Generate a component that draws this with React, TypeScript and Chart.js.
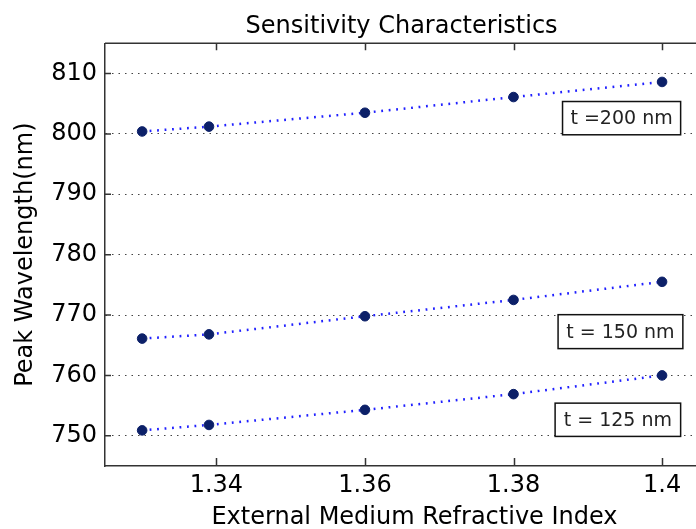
import React, { useEffect, useRef } from "react";
import { Chart, registerables } from "chart.js";

Chart.register(...registerables);

// Data
const RI = [1.33, 1.339, 1.36, 1.38, 1.4];
const T200 = [800.4, 801.2, 803.5, 806.1, 808.6];
const T150 = [766.1, 766.8, 769.8, 772.5, 775.5];
const T125 = [750.9, 751.8, 754.3, 756.9, 760.0];
const X_TICKS = [1.34, 1.36, 1.38, 1.4];
const Y_TICKS = [750, 760, 770, 780, 790, 800, 810];
const SERIES_NAMES = ["t =200 nm", "t = 150 nm", "t = 125 nm"];

const TITLE = "Sensitivity Characteristics";
const X_LABEL = "External Medium Refractive Index";
const Y_LABEL = "Peak Wavelength(nm)";

// annotation boxes in data units: [xLeft, xRight, yBottom, yTop]
const BOXES: number[][] = [
  [1.3866, 1.4025, 799.85, 805.36],
  [1.386, 1.4028, 764.44, 770.06],
  [1.3856, 1.4025, 749.9, 755.41],
];

const FONT = "'DejaVu Sans', 'Liberation Sans', Arial, sans-serif";

const decor = {
  id: "decor",
  afterDraw(chart: any) {
    const { ctx, chartArea: a, scales } = chart;
    const x = scales.x;
    const y = scales.y;
    ctx.save();
    ctx.strokeStyle = "#333";
    ctx.lineWidth = 1.5;
    ctx.beginPath();
    ctx.moveTo(a.left, a.top);
    ctx.lineTo(a.right, a.top);
    ctx.stroke();
    ctx.beginPath();
    X_TICKS.forEach((v) => {
      const px = Math.round(x.getPixelForValue(v)) + 0.5;
      ctx.moveTo(px, a.bottom);
      ctx.lineTo(px, a.bottom - 8);
      ctx.moveTo(px, a.top);
      ctx.lineTo(px, a.top + 7);
    });
    Y_TICKS.forEach((v) => {
      const py = y.getPixelForValue(v);
      ctx.moveTo(a.left, py);
      ctx.lineTo(a.left + 6, py);
    });
    ctx.stroke();

    // annotation boxes
    ctx.font = `19px ${FONT}`;
    ctx.textAlign = "center";
    ctx.textBaseline = "middle";
    BOXES.forEach((b, i) => {
      const l = x.getPixelForValue(b[0]);
      const r = x.getPixelForValue(b[1]);
      const bt = y.getPixelForValue(b[2]);
      const tp = y.getPixelForValue(b[3]);
      ctx.fillStyle = "#fff";
      ctx.fillRect(l, tp, r - l, bt - tp);
      ctx.strokeStyle = "#111";
      ctx.lineWidth = 1.5;
      ctx.strokeRect(l, tp, r - l, bt - tp);
      ctx.fillStyle = "#222";
      ctx.fillText(SERIES_NAMES[i], (l + r) / 2, (tp + bt) / 2 + 1);
    });

    // title and x label
    ctx.fillStyle = "#000";
    ctx.font = `24px ${FONT}`;
    ctx.textBaseline = "alphabetic";
    ctx.fillText(TITLE, 401.6, 33);
    ctx.fillText(X_LABEL, 414.5, 524);
    ctx.restore();
  },
};

export default function App() {
  const ref = useRef<HTMLCanvasElement | null>(null);

  useEffect(() => {
    if (!ref.current) return;
    const mk = (data: number[]) => ({
      data: RI.map((v, i) => ({ x: v, y: data[i] })),
      borderColor: "#2020ff",
      borderWidth: 2.5,
      borderDash: [1.8, 5.7],
      pointRadius: 4.8,
      pointStyle: "circle",
      pointBackgroundColor: "#0c2068",
      pointBorderColor: "#0c2068",
      pointBorderWidth: 1,
      showLine: true,
      tension: 0,
      fill: false,
    });
    const chart = new Chart(ref.current, {
      type: "scatter",
      data: {
        datasets: [
          { label: SERIES_NAMES[0], ...mk(T200) },
          { label: SERIES_NAMES[1], ...mk(T150) },
          { label: SERIES_NAMES[2], ...mk(T125) },
        ] as any,
      },
      options: {
        responsive: false,
        animation: false,
        devicePixelRatio: 1,
        layout: { padding: { top: 43.3, left: 0, right: 0, bottom: 0 } },
        plugins: {
          legend: { display: false },
          title: { display: false },
          tooltip: { enabled: false },
        },
        scales: {
          x: {
            type: "linear",
            min: 1.325,
            max: 1.405,
            afterFit: (s: any) => {
              s.height = 63;
            },
            afterBuildTicks: (s: any) => {
              s.ticks = X_TICKS.map((v) => ({ value: v }));
            },
            grid: { display: false, drawTicks: false },
            border: { display: true, color: "#333", width: 1.5 },
            ticks: {
              padding: 5,
              color: "#000",
              font: { family: FONT, size: 24 },
              maxRotation: 0,
              autoSkip: false,
              callback: (v: any) => String(Math.round(Number(v) * 100) / 100),
            },
          },
          y: {
            type: "linear",
            min: 745,
            max: 815,
            afterFit: (s: any) => {
              s.width = 105;
            },
            afterBuildTicks: (s: any) => {
              s.ticks = Y_TICKS.map((v) => ({ value: v }));
            },
            grid: {
              display: true,
              drawTicks: false,
              color: "#444",
              lineWidth: 1,
            },
            border: { display: true, color: "#333", width: 1.5, dash: [1.5, 5] },
            ticks: {
              padding: 8,
              color: "#000",
              font: { family: FONT, size: 24 },
              autoSkip: false,
              callback: (v: any) => String(Math.round(Number(v))),
            },
            title: {
              display: true,
              text: Y_LABEL,
              color: "#000",
              font: { family: FONT, size: 24 },
              padding: { top: 11, bottom: 0 },
            },
          },
        },
      } as any,
      plugins: [decor],
    });
    return () => chart.destroy();
  }, []);

  return (
    <div
      style={{
        position: "fixed",
        left: 0,
        top: 0,
        width: 696,
        height: 529,
        overflow: "hidden",
        background: "#fff",
      }}
    >
      <canvas ref={ref} width={705} height={529} style={{ width: 705, height: 529, display: "block" }} />
    </div>
  );
}
